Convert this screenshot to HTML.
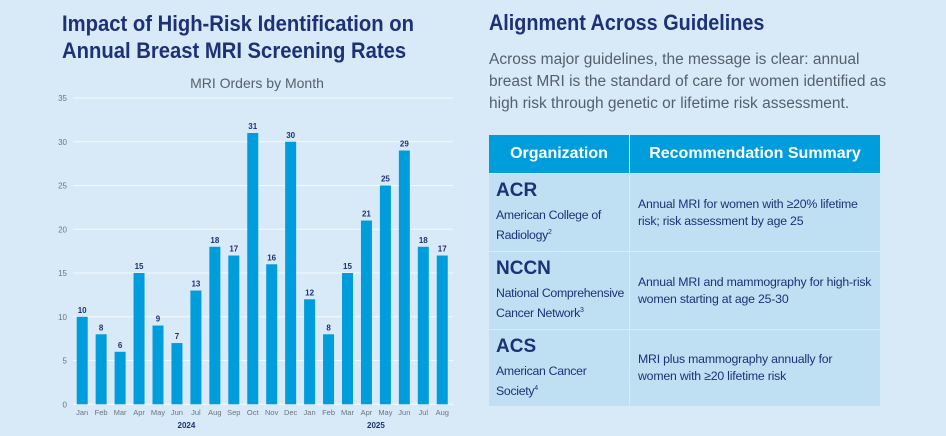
<!DOCTYPE html>
<html><head><meta charset="utf-8"><style>
body{margin:0;width:946px;height:436px;background:#d8eaf7;font-family:"Liberation Sans",sans-serif;overflow:hidden;position:relative}
.t{position:absolute;color:#1c3177;font-weight:bold;font-size:22px;line-height:27px;white-space:nowrap;transform-origin:0 0}
p{position:absolute;left:489px;top:49px;margin:0;width:400px;color:#55606b;font-size:15.5px;line-height:22px}
.c{position:absolute;box-sizing:border-box;background:#bfdff3;color:#1c3177;overflow:hidden}
.h{background:#009ddc;color:#fff;font-weight:bold;font-size:16px;text-align:center;line-height:38px}
.o{padding:6px 0 0 7px;font-size:12.3px;line-height:17px;letter-spacing:-0.3px}
.o b{font-size:19px;display:block;line-height:22px;margin-bottom:5px;letter-spacing:0}
.r{padding:0 6px 0 8px;font-size:12.3px;line-height:17px;display:flex;align-items:center;letter-spacing:-0.2px}
sup{font-size:7px}
</style></head><body>
<div class="t" style="left:62px;top:10px;transform:scaleX(0.92)">Impact of High-Risk Identification on<br>Annual Breast MRI Screening Rates</div>
<div class="t" style="left:489px;top:9px;transform:scaleX(0.9)">Alignment Across Guidelines</div>
<p>Across major guidelines, the message is clear: annual breast MRI is the standard of care for women identified as high risk through genetic or lifetime risk assessment.</p>
<svg id="c" width="470" height="436" style="position:absolute;left:0;top:0">
<text x="257" y="88" text-anchor="middle" font-size="14" fill="#55606b" font-family="Liberation Sans">MRI Orders by Month</text>
</svg>
<div>
<div class="c h" style="left:489px;top:135px;width:140px;height:38px">Organization</div>
<div class="c h" style="left:630px;top:135px;width:250px;height:38px">Recommendation Summary</div>
<div class="c o" style="left:489px;top:174px;width:140px;height:77px"><b>ACR</b>American College of<br>Radiology<sup>2</sup></div>
<div class="c r" style="left:630px;top:174px;width:250px;height:77px">Annual MRI for women with ≥20% lifetime risk; risk assessment by age 25</div>
<div class="c o" style="left:489px;top:252px;width:140px;height:77px"><b>NCCN</b>National Comprehensive<br>Cancer Network<sup>3</sup></div>
<div class="c r" style="left:630px;top:252px;width:250px;height:77px">Annual MRI and mammography for high-risk women starting at age 25-30</div>
<div class="c o" style="left:489px;top:330px;width:140px;height:76px"><b>ACS</b>American Cancer<br>Society<sup>4</sup></div>
<div class="c r" style="left:630px;top:330px;width:250px;height:76px">MRI plus mammography annually for women with ≥20 lifetime risk</div>
</div>
<script>
const months=["Jan","Feb","Mar","Apr","May","Jun","Jul","Aug","Sep","Oct","Nov","Dec","Jan","Feb","Mar","Apr","May","Jun","Jul","Aug"];
const values=[10,8,6,15,9,7,13,18,17,31,16,30,12,8,15,21,25,29,18,17];
const yTicks=[0,5,10,15,20,25,30,35];
const years=[{label:"2024",from:0,to:11},{label:"2025",from:12,to:19}];
const svg=document.getElementById('c');const NS="http://www.w3.org/2000/svg";
const y0=404.3,yMax=35,yTop=98,x0=82.2,step=18.95,bw=11;
const y=v=>y0-(v/yMax)*(y0-yTop);const x=i=>x0+i*step;
function mk(t,a,txt){const e=document.createElementNS(NS,t);for(const k in a)e.setAttribute(k,a[k]);if(txt!==undefined)e.textContent=txt;svg.appendChild(e);return e;}
yTicks.forEach(t=>{
 const g=mk('line',{x1:73,x2:453,y1:y(t),y2:y(t),stroke:'#f4f9fd','stroke-width':1});
 
 
 const l=mk('text',{x:67,y:y(t)+3,'text-anchor':'end','font-size':8,fill:'#6b7480','font-family':'Liberation Sans'},t);
 
 
});
values.forEach((v,i)=>{
 const r=mk('rect',{x:x(i)-bw/2,y:y(v),width:bw,height:y0-y(v),fill:'#009ddc'});
 
 
 const t=mk('text',{x:x(i),y:y(v)-4,'text-anchor':'middle','font-size':8,'font-weight':'bold',fill:'#1c3177','font-family':'Liberation Sans'},v);
 
 
 const m=mk('text',{x:x(i),y:415,'text-anchor':'middle','font-size':7.5,fill:'#6b7480','font-family':'Liberation Sans'},months[i]);
 
 
});
years.forEach(yr=>{
 const t=mk('text',{x:(x(yr.from)+x(yr.to))/2,y:428,'text-anchor':'middle','font-size':8,'font-weight':'bold',fill:'#1c3177','font-family':'Liberation Sans'},yr.label);
 
 
});
</script>
</body></html>
